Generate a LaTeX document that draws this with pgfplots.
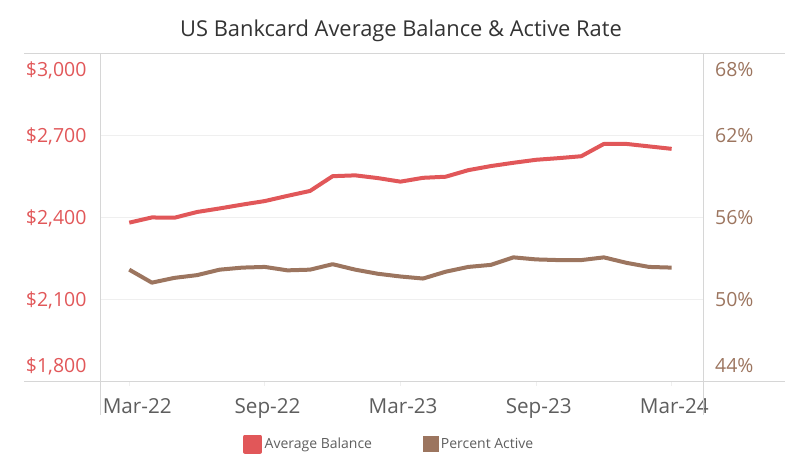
\documentclass[border=0pt]{standalone}
\usepackage{pgfplots}
\pgfplotsset{compat=1.18}
\usepackage{pgfplotstable}
\usepackage{fontspec}
\setmainfont{Open Sans}

\definecolor{balred}{HTML}{E15759}
\definecolor{actbrown}{HTML}{9C755F}
\definecolor{gridgray}{HTML}{EFEFEF}
\definecolor{framegray}{HTML}{D6D6D6}
\definecolor{labelgray}{HTML}{5E5E5E}
\definecolor{titlegray}{HTML}{333333}

% monthly, Mar-22 (0) to Mar-24 (24)
\pgfplotstableread{
idx balance active
0  2382 52.20
1  2401 51.25
2  2400 51.60
3  2421 51.80
4  2434 52.20
5  2448 52.35
6  2461 52.40
7  2480 52.15
8  2498 52.20
9  2552 52.60
10 2555 52.20
11 2545 51.90
12 2532 51.70
13 2546 51.55
14 2550 52.05
15 2574 52.40
16 2589 52.55
17 2601 53.10
18 2612 52.95
19 2618 52.90
20 2625 52.90
21 2670 53.10
22 2670 52.70
23 2661 52.40
24 2652 52.35
}\datatable

\begin{document}
\begin{tikzpicture}
\path[use as bounding box] (0,0) rectangle (598.5pt,349.5pt);

\pgfplotsset{
    common/.style={
        at={(75.5pt,63.2pt)}, anchor=south west,
        scale only axis, width=451.7pt, height=246pt,
        xmin=-1.265, xmax=25.385,
        axis line style={draw=none},
        ytick style={draw=none},
    },
}

% left axis: average balance
\begin{axis}[
    common,
    ymin=1800, ymax=3000,
    ytick={1800,2100,2400,2700,3000},
    yticklabel={\ifcase\ticknum\raisebox{12.5pt}[0pt][0pt]{\$1,800}\or\$2,100\or\$2,400\or\$2,700\or\raisebox{-12pt}[0pt][0pt]{\$3,000}\fi},
    yticklabel style={anchor=base east, inner sep=0pt, xshift=-7.5pt, yshift=-5.25pt,
        text=balred, font=\fontsize{14.6}{14.6}\selectfont},
    ymajorgrids, grid style={gridgray, line width=0.75pt},
    xtick={0,6,12,18,24},
    xticklabels={\hspace*{8pt}Mar-22,Sep-22,Mar-23,Sep-23,Mar-24},
    xticklabel style={anchor=base, inner sep=0pt, yshift=-21pt, xshift=2pt,
        text=labelgray, font=\fontsize{15.5}{15.5}\selectfont},
    xtick pos=bottom, tick align=outside, major tick length=3pt,
    xtick style={draw=gridgray, line width=0.75pt},
    legend columns=2,
    legend image code/.code={\fill[#1] (0pt,-5.6pt) rectangle (11.25pt,5.6pt);},
    legend style={at={(0.4795,-0.19)}, anchor=center, draw=none, fill=none,
        font=\fontsize{10.5}{10.5}\selectfont, text=labelgray,
        /tikz/every even column/.append style={column sep=36pt}},
]
\addplot[balred, line width=3pt, line join=round] table[x=idx, y=balance]{\datatable};
\addlegendentry{Average Balance}
\addlegendimage{actbrown}
\addlegendentry{Percent Active}
\end{axis}

% right axis: percent active
\begin{axis}[
    common,
    ymin=44, ymax=68,
    axis y line*=right,
    axis x line=none,
    ytick={44,50,56,62,68},
    yticklabel={\ifcase\ticknum\raisebox{12.5pt}[0pt][0pt]{44\%}\or 50\%\or 56\%\or 62\%\or\raisebox{-12pt}[0pt][0pt]{68\%}\fi},
    yticklabel style={anchor=base west, inner sep=0pt, xshift=9pt, yshift=-5.25pt,
        text=actbrown, font=\fontsize{14.6}{14.6}\selectfont},
]
\addplot[actbrown, line width=3pt, line join=round] table[x=idx, y=active]{\datatable};
\end{axis}

% frame lines
\draw[framegray, line width=0.75pt] (18pt,309.2pt) -- (588.75pt,309.2pt);
\draw[framegray, line width=0.75pt] (18pt,63.2pt) -- (588.75pt,63.2pt);
\draw[framegray, line width=0.75pt] (75.5pt,309.2pt) -- (75.5pt,38.25pt);
\draw[framegray, line width=0.75pt] (527.25pt,309.2pt) -- (527.25pt,38.25pt);

\node[anchor=base, text=titlegray, font=\fontsize{16.4}{16.4}\selectfont]
    at (300.75pt,322pt) {US Bankcard Average Balance \& Active Rate};
\end{tikzpicture}
\end{document}
